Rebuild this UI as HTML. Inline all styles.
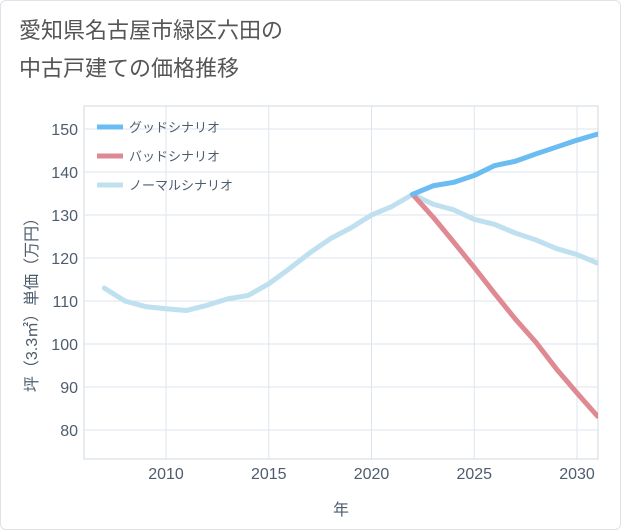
<!DOCTYPE html>
<html><head><meta charset="utf-8"><style>
body{margin:0;background:#fff;font-family:"Liberation Sans","Noto Sans CJK JP",sans-serif}
#wrap{position:relative;width:619px;height:528px;overflow:hidden;border:1px solid #dde3e8;border-radius:6px}
.t{position:absolute;left:18px;font-size:22px;color:#555;line-height:32px}
</style></head><body>
<div id="wrap">
<div class="t" style="top:14px">愛知県名古屋市緑区六田の</div>
<div class="t" style="top:52px">中古戸建ての価格推移</div>
<svg id="svg" width="621" height="530" style="position:absolute;left:0;top:0"></svg>
</div>
<script>
const years=[2007,2008,2009,2010,2011,2012,2013,2014,2015,2016,2017,2018,2019,2020,2021,2022,2023,2024,2025,2026,2027,2028,2029,2030,2031];
const normal=[113,110,108.7,108.2,107.8,109,110.5,111.3,114,117.5,121.2,124.5,127,130,132,134.8,132.5,131.2,129,127.8,125.8,124.2,122.2,120.8,118.8];
const goodYears=[2022,2023,2024,2025,2026,2027,2028,2029,2030,2031];
const good=[134.8,136.8,137.6,139.2,141.5,142.5,144.2,145.8,147.4,148.8];
const bad=[134.8,129.5,123.7,117.8,111.7,105.8,100.4,94.2,88.6,83.2];
const xTicks=[2010,2015,2020,2025,2030];
const yTicks=[80,90,100,110,120,130,140,150];
const NS="http://www.w3.org/2000/svg",svg=document.getElementById('svg');
const L=83,R=597,T=105,B=458;
const TC='#4d5d6e';
const X=v=>165+(v-2010)*20.55, Y=v=>429-(v-80)*4.3;
function mk(t,a,p){const e=document.createElementNS(NS,t);for(const k in a)e.setAttribute(k,a[k]);(p||svg).appendChild(e);return e;}
const frame=mk('rect',{x:L,y:T,width:R-L,height:B-T,fill:'none',stroke:'#cfd8e0'});


xTicks.forEach(v=>{const l=mk('line',{x1:X(v),x2:X(v),y1:T,y2:B,stroke:'#dde5ec'});


const t=mk('text',{x:X(v),y:478,'text-anchor':'middle','font-size':16,fill:TC});t.textContent=v;

});
yTicks.forEach(v=>{const l=mk('line',{x1:L,x2:R,y1:Y(v),y2:Y(v),stroke:'#dde5ec'});


const t=mk('text',{x:77,y:Y(v)+6,'text-anchor':'end','font-size':16,fill:TC});t.textContent=v;

});
const xt=mk('text',{x:340,y:514,'text-anchor':'middle','font-size':16,fill:TC});xt.textContent='年';


const yt=mk('text',{x:0,y:0,'text-anchor':'middle','font-size':16,fill:TC,transform:'translate(36,300) rotate(-90)'});yt.textContent='坪（3.3㎡）単価（万円）';


const clip=mk('clipPath',{id:'c'});mk('rect',{x:L,y:T,width:R-L,height:B-T},clip);
function line(xs,ys,col,name){const p=mk('polyline',{points:xs.map((x,i)=>X(x)+','+Y(ys[i])).join(' '),fill:'none',stroke:col,'stroke-width':5,'stroke-linejoin':'round','stroke-linecap':'round','clip-path':'url(#c)'});

}
line(years,normal,'#bfe0ef','normal-scenario-line');
line(goodYears,bad,'#df8a93','bad-scenario-line');
line(goodYears,good,'#6bbcf2','good-scenario-line');
[['グッドシナリオ','#6bbcf2',126],['バッドシナリオ','#df8a93',155],['ノーマルシナリオ','#bfe0ef',184]].forEach(([n,c,y],i)=>{
const g=mk('g',{});


mk('line',{x1:96,x2:122,y1:y,y2:y,stroke:c,'stroke-width':5},g);
const t=mk('text',{x:128,y:y+5,'font-size':13,fill:TC},g);t.textContent=n;});
</script></body></html>
